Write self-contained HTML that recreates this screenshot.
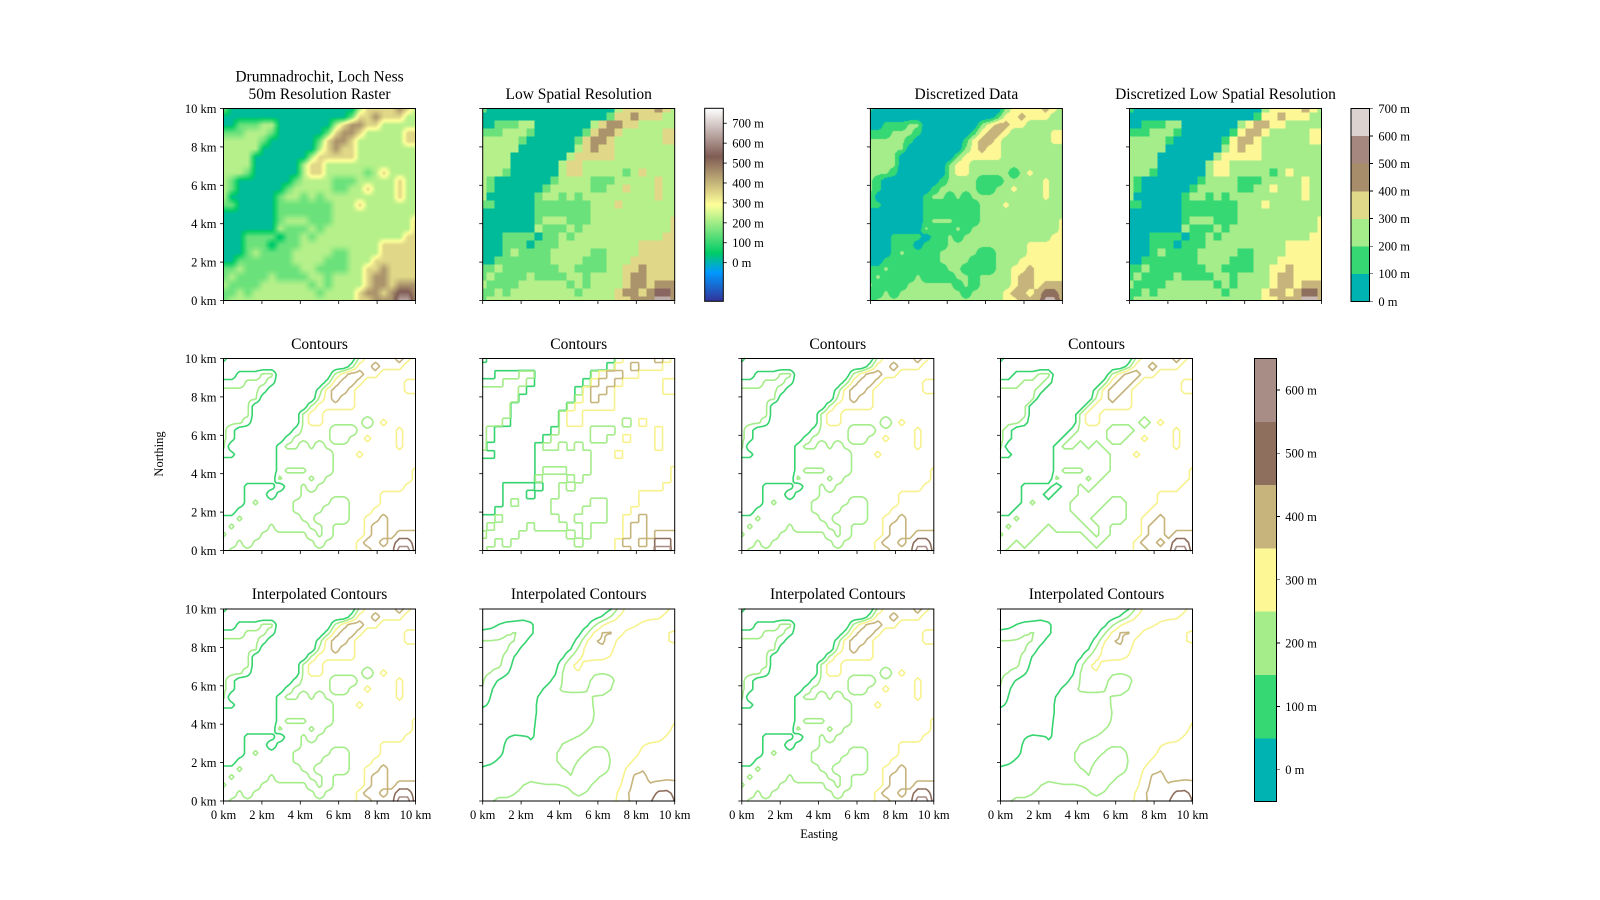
<!DOCTYPE html>
<html><head><meta charset="utf-8">
<style>
html,body{margin:0;padding:0;background:#fff;}
#wrap{position:relative;width:1600px;height:900px;overflow:hidden;background:#fff;}
canvas{position:absolute;}
svg{position:absolute;left:0;top:0;}
text{font-family:"Liberation Serif",serif;fill:#000;}
</style></head>
<body>
<div id="wrap">
<canvas id="cvRaster" width="192" height="192" style="left:223.5px;top:108.5px"></canvas>
<canvas id="cvDisc" width="192" height="192" style="left:870.4px;top:108.5px"></canvas>
<svg id="fig" width="1600" height="900" xmlns="http://www.w3.org/2000/svg"></svg>
</div>
<script>
// ---- data: elevation grid (m), 25x25, row 0 = north, col 0 = west ----
const elevation = [
[150,16,16,16,16,16,16,16,16,16,16,16,16,16,16,16,16,220,350,350,350,350,450,350,220],
[16,16,16,16,16,16,16,16,16,16,16,16,16,16,16,16,150,350,350,450,350,350,350,220,220],
[16,16,150,150,150,220,220,16,16,16,16,16,16,16,220,350,450,450,350,350,220,220,220,220,220],
[150,150,150,220,220,220,150,16,16,16,16,16,16,150,350,450,450,350,220,220,220,220,220,350,350],
[220,220,220,220,220,150,16,16,16,16,16,16,150,350,450,450,350,220,220,220,220,220,220,350,350],
[220,220,220,220,220,16,16,16,16,16,16,16,220,350,450,350,350,220,220,220,220,220,220,220,220],
[220,220,220,220,16,16,16,16,16,16,16,220,350,350,350,350,350,220,220,220,220,220,220,220,220],
[220,220,220,220,16,16,16,16,16,16,220,350,350,220,220,220,220,220,220,220,220,220,220,220,220],
[220,220,220,150,16,16,16,16,16,16,220,350,350,220,220,220,220,220,150,220,350,220,220,220,220],
[220,150,16,16,16,16,16,16,16,150,220,220,220,220,150,150,150,220,220,220,220,220,350,220,220],
[220,150,16,16,16,16,16,16,150,220,220,220,220,220,150,150,220,220,350,220,220,220,350,220,220],
[220,16,16,16,16,16,16,150,220,220,150,220,150,220,220,220,220,220,220,220,220,220,350,220,220],
[150,150,16,16,16,16,16,150,150,150,150,150,150,150,220,220,220,350,220,220,220,220,220,220,220],
[16,16,16,16,16,16,16,150,150,150,150,150,150,150,220,220,220,220,220,220,220,220,220,220,220],
[16,16,16,16,16,16,16,150,220,220,220,150,150,150,220,220,220,220,220,220,220,220,220,220,350],
[16,16,16,16,16,16,16,220,150,150,150,220,150,220,220,220,220,220,220,220,220,220,220,220,350],
[16,16,16,150,150,150,150,16,150,150,220,150,220,220,220,220,220,220,220,220,220,220,220,350,350],
[16,16,16,150,150,150,16,150,150,150,220,220,220,220,220,220,220,220,220,220,350,350,350,350,350],
[16,16,16,150,220,150,150,150,150,220,220,220,220,220,150,150,220,220,220,220,350,350,350,350,350],
[16,16,150,150,150,150,150,150,150,220,220,220,220,150,150,150,220,220,220,350,350,350,350,350,350],
[150,150,220,150,150,150,150,150,150,150,220,220,150,150,150,150,220,220,350,350,450,350,350,350,350],
[150,220,150,150,150,150,220,150,150,150,150,220,220,150,220,220,220,220,350,450,450,350,350,350,350],
[220,150,150,150,150,220,220,220,220,220,220,150,220,150,220,220,220,220,350,450,450,350,450,450,450],
[150,150,220,150,220,220,220,220,220,220,220,220,150,220,220,220,220,350,450,450,350,450,550,550,450],
[150,220,220,220,220,220,220,220,220,220,220,220,220,220,220,220,220,350,350,450,450,450,650,650,450]
];
const contourLevels = [100,200,300,400,500,600];
const levelColors = ['#35d46f','#a5ec8a','#f7f28e','#c6b47c','#8e6e5d','#a88c86'];
const binColors = ['#00b3b3','#35d873','#a5ec8a','#fdf796','#c6b47c','#8e6e5d','#c9b8b4'];
const bigBarColors = ['#00b3b3','#35d873','#a5ec8a','#fdf796','#c6b47c','#8e6e5d','#a88c86'];
const bigBarTicks = [0,100,200,300,400,500,600];
const smallDiscColors = ['#00b3b3','#35d873','#a5ec8a','#e0d98a','#a78d6a','#a5877f','#dcd3d1'];
const smallBarTicks = [0,100,200,300,400,500,600,700];
const kmTicks = [0,2,4,6,8,10];

const NS='http://www.w3.org/2000/svg';
const svg=document.getElementById('fig');
const G=elevation, NG=G.length-1; // 24
const S=192;
const VMIN=-194, VMAX=775;

function el(tag,attrs,parent){const e=document.createElementNS(NS,tag);for(const k in attrs)e.setAttribute(k,attrs[k]);(parent||svg).appendChild(e);return e;}
function txt(x,y,s,size,anchor,parent){const t=el('text',{x:x,y:y,'font-size':size,'text-anchor':anchor||'middle'},parent);t.textContent=s;return t;}

function terrain(v){
  let f=(v-VMIN)/(VMAX-VMIN); f=Math.max(0,Math.min(1,f));
  const st=[[0,.2,.2,.6],[.15,0,.6,1],[.25,0,.8,.4],[.5,1,1,.6],[.75,.5,.36,.33],[1,1,1,1]];
  for(let i=0;i<st.length-1;i++){if(f<=st[i+1][0]){const t=(f-st[i][0])/(st[i+1][0]-st[i][0]);
    return [0,1,2].map(k=>Math.round(255*(st[i][k+1]+t*(st[i+1][k+1]-st[i][k+1]))));}}
  return [255,255,255];
}
function hex2rgb(h){return [parseInt(h.substr(1,2),16),parseInt(h.substr(3,2),16),parseInt(h.substr(5,2),16)];}
function binOf(v){return Math.max(0,Math.min(6,Math.floor(v/100)));}
function bil(A,gx,gy){
  const n=A.length-1;gx=Math.max(0,Math.min(n,gx));gy=Math.max(0,Math.min(n,gy));
  const j=Math.min(n-1,Math.floor(gx)),i=Math.min(n-1,Math.floor(gy));const tx=gx-j,ty=gy-i;
  return A[i][j]*(1-tx)*(1-ty)+A[i][j+1]*tx*(1-ty)+A[i+1][j]*(1-tx)*ty+A[i+1][j+1]*tx*ty;
}
function smoothGrid(A){
  const n=A.length;const w=[1,2,1];const out=[];
  for(let i=0;i<n;i++){out.push([]);for(let j=0;j<n;j++){let s=0,ws=0;
    for(let di=-1;di<=1;di++)for(let dj=-1;dj<=1;dj++){const ii=Math.max(0,Math.min(n-1,i+di)),jj=Math.max(0,Math.min(n-1,j+dj));const ww=w[di+1]*w[dj+1];s+=A[ii][jj]*ww;ws+=ww;}
    out[i].push(s/ws);}}
  return out;
}
function sampleField(fn,N){const F=[];for(let i=0;i<N;i++){F.push([]);for(let j=0;j<N;j++)F[i].push(fn(j/(N-1),i/(N-1)));}return F;}

// ---- raster canvases ----
function drawCanvas(id,colorFn){
  const c=document.getElementById(id).getContext('2d');const im=c.createImageData(S,S);
  for(let py=0;py<S;py++)for(let px=0;px<S;px++){
    const v=bil(G,(px+.5)/S*NG,(py+.5)/S*NG);const col=colorFn(v);const o=(py*S+px)*4;
    im.data[o]=col[0];im.data[o+1]=col[1];im.data[o+2]=col[2];im.data[o+3]=255;}
  c.putImageData(im,0,0);
}
drawCanvas('cvRaster',terrain);
const binRGB=binColors.map(hex2rgb);
drawCanvas('cvDisc',v=>binRGB[binOf(v)]);

// ---- axes ----
function axes(x0,y0,name,yLabels,xLabels){
  const g=el('g',{});
  
  
  kmTicks.forEach(k=>{
    const tx=x0+k/10*S, ty=y0+S-k/10*S;
    el('line',{x1:tx,y1:y0+S,x2:tx,y2:y0+S+3.5,stroke:'#000','stroke-width':0.8},g);
    el('line',{x1:x0,y1:ty,x2:x0-3.5,y2:ty,stroke:'#000','stroke-width':0.8},g);
    if(yLabels){const t=txt(x0-7,ty+4.5,k+' km',12.5,'end',g);}
    if(xLabels){const t=txt(tx,y0+S+18,k+' km',12.5,'middle',g);}
  });
  return g;
}
function frame(x0,y0,g){el('rect',{x:x0,y:y0,width:S,height:S,fill:'none',stroke:'#000','stroke-width':1},g);}

const r1=[[223.5,'raster-panel'],[482.7,'low-res-panel'],[870.4,'discretized-panel'],[1129.5,'discretized-low-res-panel']];
const R1Y=108.5, R2Y=358.5, R3Y=609;
function lowRes(x0,y0,colorFn,name){
  const g=el('g',{'shape-rendering':'crispEdges'});
  
  
  for(let i=0;i<=NG;i++)for(let j=0;j<=NG;j++){
    const xa=x0+Math.max(0,(j-.5)/NG*S), xb=x0+Math.min(S,(j+.5)/NG*S);
    const ya=y0+Math.max(0,(i-.5)/NG*S), yb=y0+Math.min(S,(i+.5)/NG*S);
    const r=el('rect',{x:xa,y:ya,width:xb-xa+0.3,height:yb-ya+0.3,fill:colorFn(G[i][j])},g);
    
    
  }
}
lowRes(482.7,R1Y,v=>{const c=terrain(v);return 'rgb('+c.join(',')+')';},'low-res-cells');
lowRes(1129.5,R1Y,v=>binColors[binOf(v)],'discretized-low-res-cells');
r1.forEach((p,k)=>{const g=axes(p[0],R1Y,p[1],k===0,false);frame(p[0],R1Y,g);});

// ---- contours ----
function marching(F,L){
  const n=F.length,segs=[];
  for(let i=0;i<n-1;i++)for(let j=0;j<n-1;j++){
    const a=F[i][j],b=F[i][j+1],c=F[i+1][j+1],d=F[i+1][j];
    const pts=[];
    const ed=(v1,v2,p1,p2)=>{if((v1>=L)!==(v2>=L)){const t=(L-v1)/(v2-v1);pts.push([p1[0]+t*(p2[0]-p1[0]),p1[1]+t*(p2[1]-p1[1])]);}else pts.push(null);};
    ed(a,b,[j,i],[j+1,i]);ed(b,c,[j+1,i],[j+1,i+1]);ed(d,c,[j,i+1],[j+1,i+1]);ed(a,d,[j,i],[j,i+1]);
    const p=pts.filter(q=>q);
    if(p.length===2)segs.push([p[0],p[1]]);
    else if(p.length===4){const ctr=(a+b+c+d)/4;
      if((ctr>=L)===(a>=L)){segs.push([pts[0],pts[1]]);segs.push([pts[2],pts[3]]);}
      else{segs.push([pts[0],pts[3]]);segs.push([pts[1],pts[2]]);}}
  }
  return segs;
}
function contourPanel(x0,y0,F,name){
  const n=F.length-1;
  const g=el('g',{});
  
  
  contourLevels.forEach((L,li)=>{
    const segs=marching(F,L);let d='';
    segs.forEach(s=>{d+='M'+(x0+s[0][0]/n*S).toFixed(1)+' '+(y0+s[0][1]/n*S).toFixed(1)+'L'+(x0+s[1][0]/n*S).toFixed(1)+' '+(y0+s[1][1]/n*S).toFixed(1);});
    if(d){const p=el('path',{d:d,fill:'none',stroke:levelColors[li],'stroke-width':1.6,'stroke-linecap':'round'},g);
      
      }
  });
}
const hiRes=sampleField((u,v)=>bil(G,u*NG,v*NG),121);
const nearest=sampleField((u,v)=>G[Math.round(v*NG)][Math.round(u*NG)],121);
const sm=smoothGrid(G);
const smoothF=sampleField((u,v)=>bil(sm,u*NG,v*NG),121);
const cx=[223.5,482.7,741.8,1000.5];
const row2F=[hiRes,nearest,hiRes,G];
const row3F=[hiRes,smoothF,hiRes,smoothF];
cx.forEach((x,k)=>{
  contourPanel(x,R2Y,row2F[k],'contour-panel-'+(k+1));
  const g=axes(x,R2Y,'contour-axes-'+(k+1),k===0,false);frame(x,R2Y,g);
  contourPanel(x,R3Y,row3F[k],'interp-contour-panel-'+(k+1));
  const g3=axes(x,R3Y,'interp-contour-axes-'+(k+1),k===0,true);frame(x,R3Y,g3);
});

// ---- titles ----
function title(x,y,s,name){const t=txt(x,y,s,15.5,'middle');}
title(319.5,81.5,'Drumnadrochit, Loch Ness','raster-title-line1');
title(319.5,99,'50m Resolution Raster','raster-title-line2');
title(578.7,99,'Low Spatial Resolution','low-res-title');
title(966.4,99,'Discretized Data','discretized-title');
title(1225.5,99,'Discretized Low Spatial Resolution','discretized-low-res-title');
cx.forEach(x=>{title(x+96,349,'Contours','contours-title');title(x+96,599,'Interpolated Contours','interp-contours-title');});
{const t=txt(0,0,'Northing',12.5,'middle');t.setAttribute('transform','translate(163,454) rotate(-90)');}
{const t=txt(819,838,'Easting',12.5,'middle');}

// ---- colorbars ----
{const defs=el('defs',{});const lg=el('linearGradient',{id:'tg',x1:0,y1:1,x2:0,y2:0},defs);
 for(let k=0;k<=40;k++){const v=VMIN+k/40*(VMAX-VMIN);const c=terrain(v);el('stop',{offset:k/40,'stop-color':'rgb('+c.join(',')+')'},lg);}
 const g=el('g',{});
 const x0=704.7,y0=108.3,w=18.6,h=193;
 el('rect',{x:x0,y:y0,width:w,height:h,fill:'url(#tg)',stroke:'#000','stroke-width':1},g);
 smallBarTicks.forEach(v=>{const y=y0+h-(v-VMIN)/(VMAX-VMIN)*h;el('line',{x1:x0+w,y1:y,x2:x0+w+3.5,y2:y,stroke:'#000','stroke-width':0.8},g);txt(x0+w+9,y+4.5,v+' m',12.5,'start',g);});
}
{const g=el('g',{'shape-rendering':'crispEdges'});
 const x0=1351,y0=108.3,w=18.4,h=193;
 smallDiscColors.forEach((c,k)=>{el('rect',{x:x0,y:y0+h-(k+1)/7*h,width:w,height:h/7+0.3,fill:c},g);});
 el('rect',{x:x0,y:y0,width:w,height:h,fill:'none',stroke:'#000','stroke-width':1},g);
 smallBarTicks.forEach(v=>{const y=y0+h-v/700*h;el('line',{x1:x0+w,y1:y,x2:x0+w+3.5,y2:y,stroke:'#000','stroke-width':0.8},g);txt(x0+w+9,y+4.5,v+' m',12.5,'start',g);});
}
{const g=el('g',{'shape-rendering':'crispEdges'});
 const x0=1254.7,y0=358.3,w=21.6,h=443;
 bigBarColors.forEach((c,k)=>{el('rect',{x:x0,y:y0+h-(k+1)/7*h,width:w,height:h/7+0.3,fill:c},g);});
 el('rect',{x:x0,y:y0,width:w,height:h,fill:'none',stroke:'#000','stroke-width':1},g);
 bigBarTicks.forEach((v,k)=>{const y=y0+h-(k+.5)/7*h;el('line',{x1:x0+w,y1:y,x2:x0+w+3.5,y2:y,stroke:'#000','stroke-width':0.8},g);txt(x0+w+9,y+4.5,v+' m',12.5,'start',g);});
}
</script>
</body></html>
